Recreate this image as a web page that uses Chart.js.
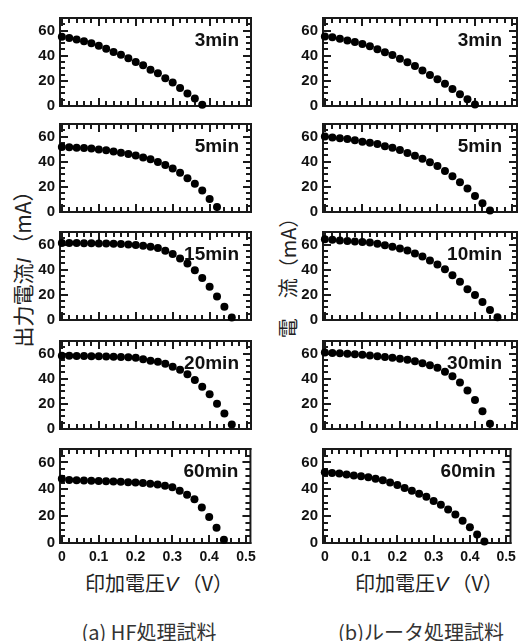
<!DOCTYPE html>
<html lang="ja">
<head>
<meta charset="utf-8">
<script src="https://cdn.jsdelivr.net/npm/chart.js@4.4.1/dist/chart.umd.min.js"></script>
<style>
  html, body { margin: 0; padding: 0; background: #fff; }
  #page { position: relative; width: 522px; height: 641px; overflow: hidden;
          font-family: "Noto Sans CJK JP", "Noto Sans", sans-serif; color: #222; }
  .panel { position: absolute; }
  .txt { position: absolute; white-space: nowrap; transform: translate(-50%, -50%); }
  .vert { transform: translate(-50%, -50%) rotate(-90deg); }
  .title { font-size: 21px; }
  .caption { font-size: 20px; color: #333; }
  .txt i { font-family: "Liberation Sans", Arial, sans-serif; margin-right: 3px; }
</style>
</head>
<body>
<div id="page">
  <div class="txt vert title" style="left:22px; top:264px;">出力電流<i>I</i>（mA）</div>
  <div class="txt vert title" style="left:287px; top:273px; font-size:20px;">電　流（mA）</div>
  <div class="txt title" style="left:159px; top:582px; font-size:20px;">印加電圧<i>V</i>（V）</div>
  <div class="txt title" style="left:429px; top:582px; font-size:20px;">印加電圧<i>V</i>（V）</div>
  <div class="txt caption" style="left:149px; top:631px;">(a) HF処理試料</div>
  <div class="txt caption" style="left:421px; top:631px;">(b)ルータ処理試料</div>
</div>
<script>
// --- Data ---
const voltage = [0, 0.02, 0.04, 0.06, 0.08, 0.10, 0.12, 0.14, 0.16, 0.18, 0.20, 0.22,
                 0.24, 0.26, 0.28, 0.30, 0.32, 0.34, 0.36, 0.38, 0.40, 0.42, 0.44, 0.46];

// (a) HF treated samples, current in mA
const hf3min = [55, 54, 52.8, 51.6, 50, 48, 45.5, 43, 40.8, 38, 35, 32.4, 28.8, 26, 22, 18.7, 14.4, 10, 6, 1];
const hf5min = [51.8, 51.5, 51.2, 51, 50.6, 49.8, 49.1, 48.1, 47.2, 46.2, 45, 43.3, 41.9, 39.7, 37.3, 34.6, 31.2, 26.9, 22.5, 17.2, 10.4, 3.9];
const hf15min = [61.3, 61.3, 61.2, 61.1, 61, 60.9, 60.8, 60.6, 60.4, 60.1, 59.6, 59, 58.2, 57.2, 55, 52.5, 49, 45, 39.5, 33.5, 26.5, 18.7, 10.5, 2];
const hf20min = [58.3, 58.2, 58.1, 58, 57.9, 57.8, 57.6, 57.5, 57.3, 57, 56.6, 55.4, 54.2, 53.5, 51.9, 49.5, 47.2, 43.6, 38.9, 33.7, 27.6, 20, 12.3, 3.5];
const hf60min = [47.9, 47, 46.8, 46.6, 46.4, 46.2, 46, 45.8, 45.6, 45.3, 45, 44.6, 44.2, 43.5, 42.6, 41.5, 39, 36, 32.5, 26.5, 19.4, 11.4, 2.4];

// (b) router treated samples, current in mA
const rt3min = [55.3, 54.6, 53.4, 52.2, 51, 49.4, 47.5, 45.2, 42.8, 40.5, 37.6, 34.8, 31.8, 28.2, 24.7, 21.2, 17.6, 13.6, 9.4, 5.4, 1.2];
const rt5min = [60, 59.3, 58.6, 58.1, 57, 55.8, 55.1, 54, 52.3, 51.2, 49.3, 47, 44.7, 42.3, 39.5, 36.5, 32.6, 28.4, 23.7, 18.6, 12.8, 7, 1.2];
const rt10min = [64.3, 63.8, 63.3, 62.9, 62.5, 62, 61.6, 60.6, 59.4, 58.3, 56.8, 55.2, 52.8, 50.5, 47.4, 44.1, 40.3, 35.6, 30.4, 24.5, 19.8, 14.4, 8, 2.1];
const rt30min = [60.8, 60.5, 60.2, 59.8, 59.4, 59, 58.5, 57.8, 57.3, 56.6, 55.9, 55, 53.8, 52.4, 50.7, 48.8, 45.5, 42, 37, 30.7, 23.1, 14.2, 4.2];
const rt60min = [52.6, 52.1, 51.7, 51, 50.2, 49.8, 49, 47.9, 46.7, 45, 43.1, 41, 39, 36.7, 34.4, 31.3, 28.4, 24.9, 21.3, 16.6, 11.8, 6.4, 1.2];

const hfLabels = ['3min', '5min', '15min', '20min', '60min'];
const rtLabels = ['3min', '5min', '10min', '30min', '60min'];

// tick labels
const xTicks = [0, 0.1, 0.2, 0.3, 0.4, 0.5];
const xTickLabels = ['0', '0.1', '0.2', '0.3', '0.4', '0.5'];
const yTicks = [0, 20, 40, 60];

// --- Layout ---
const rowTops = [12, 118, 226, 335, 443];
const columns = [
    { left: 0, width: 262, axisWidth: 60, padRight: 11, labelInset: 12 },
    { left: 262, width: 260, axisWidth: 61, padRight: 5, labelInset: 15 }
];

const INK = '#111';

// Frame with inward ticks on all four sides, plus the time label
const panelFrame = {
    id: 'panelFrame',
    beforeDatasetsDraw(chart, args, opts) {
        const ctx = chart.ctx;
        const { left, right, top, bottom } = chart.chartArea;
        const xs = chart.scales.x;
        const ys = chart.scales.y;
        ctx.save();
        ctx.fillStyle = '#1a1a1a';
        // border as four filled bars
        ctx.fillRect(left - 1, top - 1, right - left + 2, 2);
        ctx.fillRect(left - 1, bottom - 1, right - left + 2, 2);
        ctx.fillRect(left - 1, top - 1, 2, bottom - top + 2);
        ctx.fillRect(right - 1, top - 1, 2, bottom - top + 2);

        // x ticks: major every 0.1, minor every 0.02
        for (let i = 0; i <= 25; i++) {
            const px = Math.round(xs.getPixelForValue(i * 0.02));
            const len = i % 5 === 0 ? 8 : 5;
            ctx.fillRect(px - 1, bottom - len, 2, len);
            ctx.fillRect(px - 1, top, 2, len);
        }
        // y ticks: major every 20, minor every 5
        for (let v = 0; v <= 70; v += 5) {
            const py = Math.round(ys.getPixelForValue(v));
            const len = v % 20 === 0 ? 8 : 5;
            ctx.fillRect(left, py - 1, len, 2);
            ctx.fillRect(right - len, py - 1, len, 2);
        }

        ctx.fillStyle = INK;
        ctx.font = "bold 19px 'Liberation Sans', Arial, sans-serif";
        ctx.textAlign = 'right';
        ctx.textBaseline = 'alphabetic';
        ctx.fillText(opts.label, right - opts.inset, top + 28);
        ctx.restore();
    }
};

function makePanel(col, row, label, values) {
    const isBottom = row === rowTops.length - 1;
    const wrap = document.createElement('div');
    wrap.className = 'panel';
    wrap.style.left = col.left + 'px';
    wrap.style.top = (rowTops[row] - 8) + 'px';
    const canvas = document.createElement('canvas');
    canvas.width = col.width;
    canvas.height = isBottom ? 134 : 116;
    wrap.appendChild(canvas);
    document.getElementById('page').appendChild(wrap);

    const points = values.map((y, i) => ({ x: voltage[i], y: y }));

    return new Chart(canvas, {
        type: 'scatter',
        data: {
            datasets: [{
                data: points,
                backgroundColor: '#000',
                borderColor: '#000',
                borderWidth: 0,
                pointRadius: 4,
                pointHoverRadius: 4,
                clip: false
            }]
        },
        options: {
            responsive: false,
            animation: false,
            events: [],
            layout: { padding: { top: 8, right: col.padRight, bottom: isBottom ? 0 : 8, left: 0 } },
            plugins: {
                legend: { display: false },
                tooltip: { enabled: false },
                panelFrame: { label: label, inset: col.labelInset }
            },
            scales: {
                x: {
                    type: 'linear',
                    min: -0.005,
                    max: 0.512,
                    grid: { display: false, drawTicks: false },
                    border: { display: false },
                    ticks: {
                        display: isBottom,
                        font: { family: "'Liberation Sans', Arial, sans-serif", size: 14, weight: 'bold' },
                        color: INK,
                        padding: 6,
                        maxRotation: 0,
                        autoSkip: false,
                        callback: (value, index) => xTickLabels[index]
                    },
                    afterBuildTicks: (scale) => { scale.ticks = xTicks.map(v => ({ value: v })); },
                    afterFit: (scale) => { scale.height = isBottom ? 26 : 0; }
                },
                y: {
                    min: 0,
                    max: 70,
                    grid: { display: false, drawTicks: false },
                    border: { display: false },
                    ticks: {
                        font: { family: "'Liberation Sans', Arial, sans-serif", size: 15, weight: 'bold' },
                        color: INK,
                        padding: 5
                    },
                    afterBuildTicks: (scale) => { scale.ticks = yTicks.map(v => ({ value: v })); },
                    afterFit: (scale) => { scale.width = col.axisWidth; }
                }
            }
        },
        plugins: [panelFrame]
    });
}

// --- Build both columns ---
const hfSeries = [hf3min, hf5min, hf15min, hf20min, hf60min];
const rtSeries = [rt3min, rt5min, rt10min, rt30min, rt60min];

hfSeries.forEach((values, r) => makePanel(columns[0], r, hfLabels[r], values));
rtSeries.forEach((values, r) => makePanel(columns[1], r, rtLabels[r], values));
</script>
</body>
</html>
